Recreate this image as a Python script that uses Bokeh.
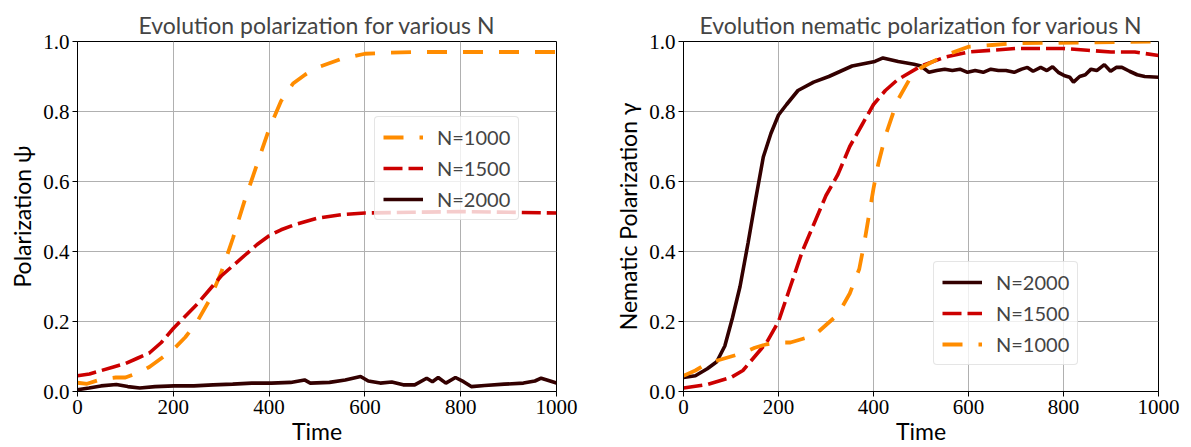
from bokeh.plotting import figure
from bokeh.layouts import row
from bokeh.models import FixedTicker, Legend, LegendItem, NumeralTickFormatter, Range1d
from bokeh.embed import file_html
from bokeh.resources import INLINE

# ---------------- data ----------------
# Left panel: polarization psi
t_l1000 = [0, 20, 50, 80, 100, 130, 150, 180, 200, 225, 250, 275, 300, 325, 350, 375, 400, 425, 450, 475, 500, 550, 600, 650, 700, 800, 900, 1000]
psi_1000 = [0.025, 0.022, 0.035, 0.04, 0.04, 0.055, 0.07, 0.1, 0.12, 0.155, 0.2, 0.26, 0.34, 0.44, 0.55, 0.65, 0.75, 0.83, 0.88, 0.905, 0.925, 0.95, 0.965, 0.968, 0.97, 0.97, 0.97, 0.97]

t_l1500 = [0, 25, 50, 75, 100, 125, 150, 175, 200, 225, 250, 275, 300, 325, 350, 375, 400, 425, 450, 500, 550, 600, 700, 800, 900, 1000]
psi_1500 = [0.045, 0.05, 0.06, 0.07, 0.08, 0.095, 0.11, 0.14, 0.18, 0.215, 0.25, 0.29, 0.33, 0.36, 0.39, 0.42, 0.445, 0.462, 0.475, 0.495, 0.505, 0.51, 0.512, 0.514, 0.512, 0.51]

t_l2000 = [0, 24, 49, 81, 105, 130, 162, 202, 243, 283, 324, 364, 405, 445, 474, 486, 526, 559, 575, 591, 607, 632, 656, 680, 704, 729, 741, 753, 769, 789, 806, 822, 850, 891, 931, 955, 968, 980, 1000]
psi_2000 = [0.005, 0.01, 0.016, 0.02, 0.014, 0.01, 0.014, 0.016, 0.016, 0.019, 0.021, 0.024, 0.024, 0.026, 0.033, 0.024, 0.026, 0.033, 0.038, 0.043, 0.03, 0.024, 0.027, 0.019, 0.019, 0.038, 0.028, 0.04, 0.024, 0.04, 0.028, 0.014, 0.017, 0.021, 0.024, 0.03, 0.038, 0.033, 0.024]

# Right panel: nematic polarization gamma
t_r2000 = [0, 25, 50, 70, 87, 103, 119, 136, 152, 168, 184, 200, 217, 241, 274, 306, 355, 403, 420, 452, 485, 500, 517, 533, 550, 566, 582, 598, 614, 631, 647, 663, 679, 696, 712, 724, 736, 752, 765, 777, 789, 801, 813, 821, 834, 846, 858, 870, 886, 899, 911, 923, 939, 955, 971, 1000]
gam_2000 = [0.04, 0.045, 0.065, 0.085, 0.13, 0.21, 0.3, 0.425, 0.55, 0.67, 0.737, 0.79, 0.82, 0.86, 0.884, 0.9, 0.93, 0.943, 0.953, 0.943, 0.935, 0.93, 0.912, 0.917, 0.921, 0.917, 0.921, 0.912, 0.917, 0.912, 0.921, 0.917, 0.917, 0.912, 0.921, 0.926, 0.915, 0.926, 0.917, 0.928, 0.912, 0.903, 0.898, 0.884, 0.9, 0.905, 0.921, 0.917, 0.934, 0.915, 0.926, 0.926, 0.915, 0.905, 0.9, 0.898]

t_r1500 = [0, 50, 100, 125, 150, 175, 200, 225, 250, 275, 300, 325, 350, 375, 400, 425, 450, 500, 550, 600, 700, 800, 850, 900, 950, 1000]
gam_1500 = [0.01, 0.02, 0.04, 0.06, 0.1, 0.14, 0.2, 0.3, 0.4, 0.48, 0.56, 0.62, 0.7, 0.76, 0.82, 0.86, 0.89, 0.93, 0.955, 0.97, 0.98, 0.98, 0.975, 0.97, 0.97, 0.96]

t_r1000 = [0, 25, 50, 75, 100, 125, 150, 175, 200, 225, 250, 275, 300, 325, 350, 370, 380, 390, 400, 410, 425, 450, 475, 500, 550, 600, 650, 700, 1000]
gam_1000 = [0.045, 0.06, 0.08, 0.09, 0.1, 0.11, 0.125, 0.135, 0.14, 0.14, 0.15, 0.16, 0.19, 0.22, 0.28, 0.35, 0.42, 0.5, 0.58, 0.65, 0.73, 0.83, 0.89, 0.925, 0.96, 0.985, 0.99, 0.995, 1.0]

x_ticks = [0, 200, 400, 600, 800, 1000]
y_ticks = [0.0, 0.2, 0.4, 0.6, 0.8, 1.0]

C1000 = "#ff8c00"
C1500 = "#cc0000"
C2000 = "#330000"
DASH1000 = "20 16"
DASH1500 = "19 6"

SANS = "Lato"
SERIF = "Liberation Serif"


def make_fig(title, ylabel, width, left, right):
    p = figure(width=width, height=447, output_backend="svg", toolbar_location=None,
               x_range=Range1d(0, 1000), y_range=Range1d(0, 1.0),
               min_border_left=left, min_border_right=right,
               min_border_top=41, min_border_bottom=54)
    p.title.text = title
    p.title.text_font = SANS
    p.title.text_font_size = "23px"
    p.title.text_font_style = "normal"
    p.title.align = "center"
    p.title.offset = 0
    p.title.standoff = 5
    p.axis.major_label_text_font = SERIF
    p.axis.major_label_text_font_size = "21px"
    p.axis.major_label_text_font_style = "normal"
    p.axis.axis_label_text_font = SANS
    p.axis.axis_label_text_font_size = "23px"
    p.axis.axis_label_text_font_style = "normal"
    p.axis.minor_tick_line_color = None
    p.axis.major_tick_in = 0
    p.axis.major_tick_out = 5
    p.axis.axis_line_color = "black"
    p.axis.major_tick_line_color = "black"
    p.axis.major_label_text_color = "black"
    p.axis.axis_label_text_color = "black"
    p.xaxis.ticker = FixedTicker(ticks=x_ticks)
    p.yaxis.ticker = FixedTicker(ticks=y_ticks)
    p.yaxis.formatter = NumeralTickFormatter(format="0.0")
    p.xaxis.axis_label = "Time"
    p.yaxis.axis_label = ylabel
    p.xaxis.axis_label_standoff = 0
    p.yaxis.axis_label_standoff = 4
    p.xaxis.major_label_standoff = 3
    p.yaxis.major_label_standoff = 3
    p.grid.grid_line_color = "#b0b0b0"
    p.grid.grid_line_width = 1
    p.outline_line_color = "black"
    p.outline_line_alpha = 1
    p.outline_line_width = 1
    p.background_fill_color = "white"
    p.border_fill_color = "white"
    return p


# ---------------- left panel ----------------
p1 = make_fig("Evolution polarization for various N", "Polarization ψ", 600, 77, 44)
r_a = p1.line(t_l1000, psi_1000, line_color=C1000, line_width=3.8, line_dash=DASH1000)
r_b = p1.line(t_l1500, psi_1500, line_color=C1500, line_width=3.6, line_dash=DASH1500)
r_c = p1.line(t_l2000, psi_2000, line_color=C2000, line_width=3.6)
leg1 = Legend(items=[LegendItem(label="N=1000", renderers=[r_a]),
                     LegendItem(label="N=1500", renderers=[r_b]),
                     LegendItem(label="N=2000", renderers=[r_c])],
              location=(297, 171))
p1.add_layout(leg1, "center")

# ---------------- right panel ----------------
p2 = make_fig("Evolution nematic polarization for various N", "Nematic Polarization γ", 591, 83, 33)
r_d = p2.line(t_r2000, gam_2000, line_color=C2000, line_width=3.6)
r_e = p2.line(t_r1500, gam_1500, line_color=C1500, line_width=3.6, line_dash=DASH1500)
r_f = p2.line(t_r1000, gam_1000, line_color=C1000, line_width=3.8, line_dash=DASH1000)
leg2 = Legend(items=[LegendItem(label="N=2000", renderers=[r_d]),
                     LegendItem(label="N=1500", renderers=[r_e]),
                     LegendItem(label="N=1000", renderers=[r_f])],
              location=(250, 26))
p2.add_layout(leg2, "center")

for lg in (leg1, leg2):
    lg.label_text_font = SANS
    lg.label_text_font_size = "20px"
    lg.glyph_width = 40
    lg.glyph_height = 20
    lg.label_standoff = 14
    lg.spacing = 7
    lg.padding = 8
    lg.margin = 0
    lg.border_line_color = "#cccccc"
    lg.border_line_width = 1
    lg.background_fill_alpha = 0.8
    lg.border_radius = 4

layout = row(p1, p2)
open("out.html", "w").write(file_html(layout, INLINE))
